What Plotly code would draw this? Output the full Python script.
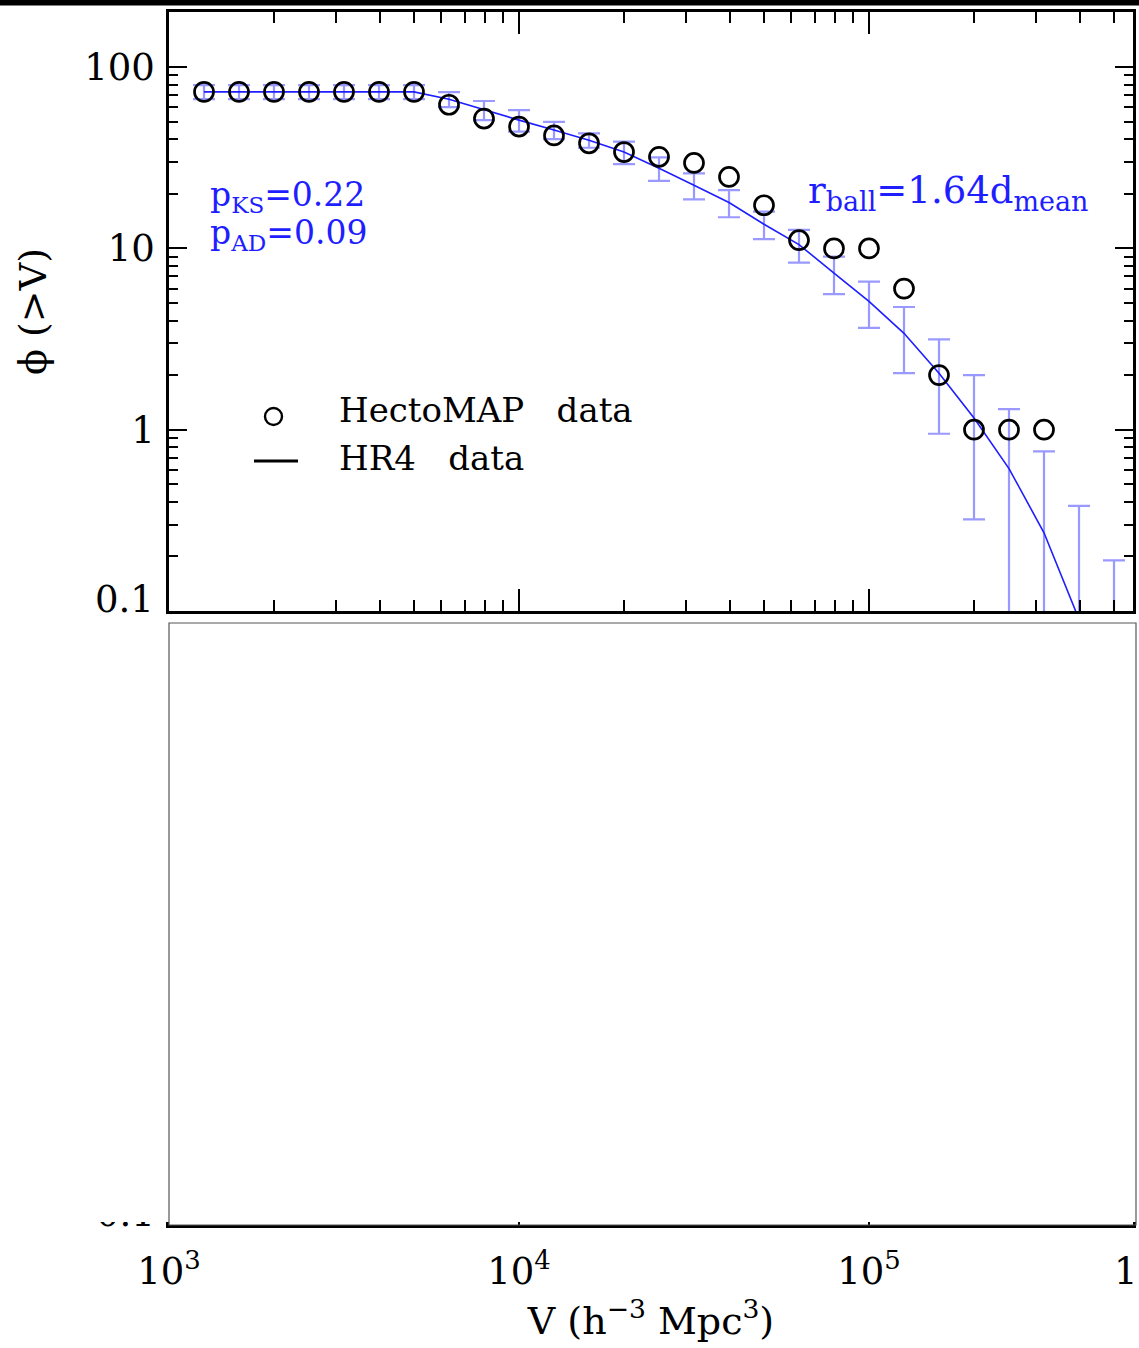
import plotly.graph_objects as go

W, H = 1139, 1348

# ---------------- data ----------------
volume = [1259, 1585, 1995, 2512, 3162, 3981, 5012, 6310, 7943, 10000,
          12589, 15849, 19953, 25119, 31623, 39811, 50119, 63096, 79433,
          100000, 125893, 158489, 199526, 251189, 316228]
hectomap_phi = [73, 73, 73, 73, 73, 73, 73, 62, 52, 47, 42, 38, 34, 32, 29.6,
                24.8, 17.3, 11.1, 10, 10, 6, 2, 1, 1, 1]

hr4_volume = [1259, 1585, 1995, 2512, 3162, 3981, 5012, 6310, 7943, 10000,
              12589, 15849, 19953, 25119, 31623, 39811, 50119, 63096, 79433,
              100000, 125893, 158489, 199526, 251189, 316228, 398107, 501187]
hr4_phi = [73, 73, 73, 73, 73, 73, 73, 66.5, 58, 51, 45, 39.5, 34, 27.7, 22.3,
           17.9, 13.6, 10.5, 7.3, 5.1, 3.4, 2.05, 1.16, 0.61, 0.27, 0.09, 0.02]
hr4_err = [6.5, 6.5, 6.5, 6.5, 6.5, 6.5, 6.5, 6.3, 7.0, 6.9, 4.9, 3.6, 4.8, 4.1,
           3.65, 3.05, 2.35, 2.15, 1.7, 1.46, 1.35, 1.1, 0.84, 0.69, 0.49, 0.29, 0.17]

y_tickvals = [1, 10, 100]
y_ticktext = ["1", "10", "100"]
x_tickvals = [1e3, 1e4, 1e5]
x_ticktext = ["10<sup>3</sup>", "10<sup>4</sup>", "10<sup>5</sup>"]
x_minor = [m * 10 ** d for d in (3, 4, 5) for m in range(2, 10) if m * 10 ** d < 5.6e5]
y_minor = [m * 10 ** d for d in (-1, 0, 1) for m in range(2, 10)]

FONT = "DejaVu Serif"
BLUE = "rgb(30,30,255)"


def pxx(x):
    return x / W


def pxy(y):
    return 1 - y / H


X_RANGE = [3, 3 + (1133 - 169) / 350.0]
Y_RANGE = [-1, -1 + (611 - 12) / 181.3]

fig = go.Figure()

fig.add_trace(go.Scatter(
    x=hr4_volume, y=hr4_phi, mode="lines", name="HR4 data",
    line=dict(color=BLUE, width=1.6),
    error_y=dict(type="data", array=hr4_err, color="rgba(70,70,255,0.55)",
                 thickness=2.2, width=11),
    showlegend=False, xaxis="x", yaxis="y"))

fig.add_trace(go.Scatter(
    x=volume, y=hectomap_phi, mode="markers", name="HectoMAP data",
    marker=dict(symbol="circle-open", size=19, color="black",
                line=dict(width=2.7, color="black")),
    showlegend=False, xaxis="x", yaxis="y"))

# lower (hidden) panel, only its bottom axis survives
fig.add_trace(go.Scatter(x=[], y=[], xaxis="x2", yaxis="y2", showlegend=False))

axis_common = dict(type="log", showgrid=False, zeroline=False, showline=True,
                   automargin=False,
                   linecolor="black", linewidth=2.5, mirror="allticks",
                   ticks="inside", tickcolor="black", tickwidth=2,
                   tickfont=dict(family=FONT, size=37, color="black"))

fig.update_layout(
    width=W, height=H, autosize=False,
    margin=dict(l=0, r=0, t=0, b=0, pad=0),
    paper_bgcolor="white", plot_bgcolor="white",
    showlegend=False,
    xaxis=dict(axis_common, domain=[pxx(169), pxx(1133)], range=X_RANGE,
               anchor="y", tickvals=x_tickvals, ticklen=22, showticklabels=False,
               minor=dict(ticks="inside", ticklen=11, tickwidth=2, tickcolor="black",
                          tickvals=x_minor, showgrid=False)),
    yaxis=dict(axis_common, domain=[pxy(611), pxy(12)], range=Y_RANGE,
               anchor="x", tickvals=y_tickvals, ticktext=y_ticktext, ticklen=18,
               ticklabelstandoff=4,
               minor=dict(ticks="inside", ticklen=9, tickwidth=2, tickcolor="black",
                          tickvals=y_minor, showgrid=False),
               title=dict(text="ϕ (>V)", font=dict(family=FONT, size=38, color="black"),
                          standoff=26)),
    xaxis2=dict(axis_common, domain=[pxx(169), pxx(1133)], range=X_RANGE,
                anchor="y2", tickvals=x_tickvals, ticktext=x_ticktext, ticklen=22,
                ticklabelstandoff=12,
                title=dict(text="V (h<sup>−3</sup> Mpc<sup>3</sup>)",
                           font=dict(family=FONT, size=38, color="black"), standoff=15)),
    yaxis2=dict(axis_common, domain=[pxy(1225), pxy(623)], range=Y_RANGE,
                anchor="x2", tickvals=[0.1], ticktext=["0.1"], ticklen=18,
                ticklabelstandoff=4, ticklabelshift=-12),
)

shapes = [
    # black strip at the very top
    dict(type="rect", xref="paper", yref="paper", x0=0, x1=1, y0=pxy(5.5), y1=1,
         fillcolor="black", line=dict(width=0), layer="above"),
    # white box covering the lower panel
    dict(type="rect", xref="paper", yref="paper", x0=0, x1=1, y0=pxy(1222), y1=pxy(617),
         fillcolor="white", line=dict(width=0), layer="above"),
    dict(type="rect", xref="paper", yref="paper", x0=pxx(169), x1=pxx(1136),
         y0=pxy(1225), y1=pxy(623), line=dict(color="#555555", width=1.2), layer="above"),
    # legend symbols
    dict(type="circle", xref="paper", yref="paper", x0=pxx(265), x1=pxx(282),
         y0=pxy(425), y1=pxy(408), line=dict(color="black", width=2.4), layer="above"),
    dict(type="line", xref="paper", yref="paper", x0=pxx(254), x1=pxx(298),
         y0=pxy(461), y1=pxy(461), line=dict(color="black", width=3), layer="above"),
]
fig.update_layout(shapes=shapes)

SUB = '<sub><span style="font-size:27px">{}</span></sub>'

ann = [
    dict(text="0.1", x=pxx(156), y=pxy(599), xanchor="right", yanchor="middle",
         font=dict(family=FONT, size=37, color="black")),
    dict(text="HectoMAP&nbsp;&nbsp;&nbsp;data", x=pxx(337), y=pxy(410), xanchor="left",
         yanchor="middle", font=dict(family=FONT, size=34, color="black")),
    dict(text="HR4&nbsp;&nbsp;&nbsp;data", x=pxx(337), y=pxy(458), xanchor="left",
         yanchor="middle", font=dict(family=FONT, size=34, color="black")),
    dict(text="p<sub>KS</sub>=0.22", x=pxx(208), y=pxy(196), xanchor="left", yanchor="middle",
         font=dict(family=FONT, size=33, color=BLUE)),
    dict(text="p<sub>AD</sub>=0.09", x=pxx(208), y=pxy(234), xanchor="left", yanchor="middle",
         font=dict(family=FONT, size=33, color=BLUE)),
    dict(text="r" + SUB.format("ball") + "=1.64d" + SUB.format("mean"), x=pxx(806), y=pxy(193),
         xanchor="left", yanchor="middle", font=dict(family=FONT, size=37, color=BLUE)),
    dict(text="10<sup>6</sup>", x=pxx(1112), y=pxy(1268), xanchor="left", yanchor="middle",
         font=dict(family=FONT, size=37, color="black")),
]
for a in ann:
    a.update(xref="paper", yref="paper", showarrow=False)
fig.update_layout(annotations=ann)

fig.write_html("out.html", config={"displayModeBar": False},
               post_script="document.body.style.margin='0px';")
